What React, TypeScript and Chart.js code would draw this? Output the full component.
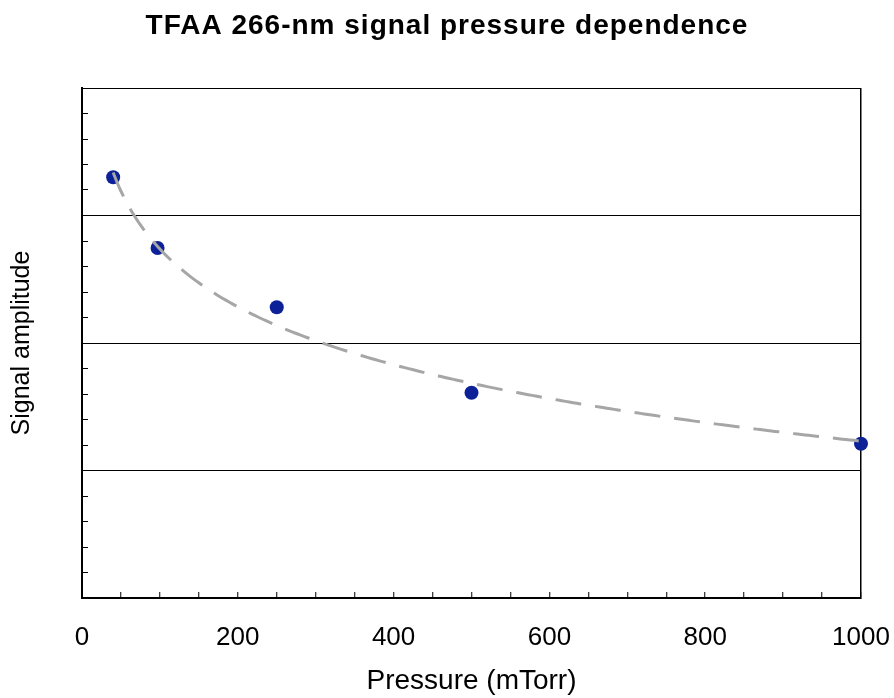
import React, { useEffect, useRef } from "react";
import { Chart, registerables } from "chart.js";

Chart.register(...registerables);

const TITLE = "TFAA 266-nm signal pressure dependence";
const X_TITLE = "Pressure (mTorr)";
const Y_TITLE = "Signal amplitude";

// Measured data (pressure in mTorr, signal amplitude in arbitrary units)
const pressures = [40, 97, 250, 500, 1000];
const amplitudes = [3.3, 2.745, 2.28, 1.61, 1.21];

// Axis setup
const xMin = 0;
const xMax = 1000;
const xMinorStep = 50;
const xLabelStep = 200;
const yMin = 0;
const yMax = 4;
const yMinorStep = 0.2;

const FONT = '"Liberation Sans", Arial, Helvetica, sans-serif';

// Logarithmic trendline (least squares y = a + b ln x), as in the original spreadsheet chart
function logFit(xs: number[], ys: number[]) {
  const lx = xs.map((v) => Math.log(v));
  const n = xs.length;
  const mx = lx.reduce((s, v) => s + v, 0) / n;
  const my = ys.reduce((s, v) => s + v, 0) / n;
  let sxy = 0;
  let sxx = 0;
  for (let i = 0; i < n; i++) {
    sxy += (lx[i] - mx) * (ys[i] - my);
    sxx += (lx[i] - mx) * (lx[i] - mx);
  }
  const b = sxy / sxx;
  const a = my - b * mx;
  return { a, b };
}

function trendPoints() {
  const { a, b } = logFit(pressures, amplitudes);
  const lo = Math.min(...pressures);
  const hi = Math.max(...pressures);
  const pts: { x: number; y: number }[] = [];
  const steps = 200;
  for (let i = 0; i <= steps; i++) {
    const x = lo + ((hi - lo) * i) / steps;
    pts.push({ x, y: a + b * Math.log(x) });
  }
  return pts;
}

const titlePlugin = {
  id: "customTitle",
  afterDraw(chart: any) {
    const ctx = chart.ctx;
    ctx.save();
    ctx.font = `bold 28px ${FONT}`;
    ctx.fillStyle = "#000";
    ctx.textAlign = "center";
    ctx.textBaseline = "alphabetic";
    try {
      (ctx as any).letterSpacing = "1px";
    } catch (e) {}
    ctx.fillText(TITLE, chart.width / 2, 34);
    ctx.restore();
  },
};

export default function App() {
  const ref = useRef<HTMLCanvasElement | null>(null);

  useEffect(() => {
    if (!ref.current) return;
    const isInt = (v: number) => Math.abs(v - Math.round(v)) < 1e-6;
    const chart = new Chart(ref.current, {
      type: "scatter",
      data: {
        datasets: [
          {
            label: "trend",
            data: trendPoints(),
            showLine: true,
            borderColor: "#a6a6a6",
            borderWidth: 3,
            borderDash: [26, 14],
            pointRadius: 0,
            pointHoverRadius: 0,
            fill: false,
            order: 0,
          } as any,
          {
            label: "signal",
            data: pressures.map((p, i) => ({ x: p, y: amplitudes[i] })),
            backgroundColor: "#0c2197",
            borderColor: "#0c2197",
            pointRadius: 7,
            pointBorderWidth: 0,
            clip: false,
            order: 1,
          } as any,
        ],
      },
      options: {
        responsive: false,
        animation: false,
        layout: { padding: { top: 88, right: 33, left: 0, bottom: 0 } },
        plugins: {
          legend: { display: false },
          title: { display: false },
          tooltip: { enabled: false },
        },
        scales: {
          x: {
            type: "linear",
            min: xMin,
            max: xMax,
            afterFit: (s: any) => {
              s.height = 100;
              s.paddingLeft = 0;
              s.paddingRight = 0;
            },
            ticks: {
              stepSize: xMinorStep,
              autoSkip: false,
              maxRotation: 0,
              minRotation: 0,
              padding: 30,
              color: "#000",
              font: { family: FONT, size: 26 },
              callback: (v: any) => (Math.round(v) % xLabelStep === 0 ? String(Math.round(v)) : ""),
            },
            grid: {
              drawOnChartArea: true,
              drawTicks: true,
              tickLength: -6,
              color: (c: any) => (c.tick && Math.round(c.tick.value) === xMax ? "#000" : "rgba(0,0,0,0)"),
              tickColor: "#000",
              lineWidth: 1.5,
              tickWidth: 1,
            },
            border: { display: true, color: "#000", width: 2 },
            title: {
              display: true,
              text: X_TITLE,
              color: "#000",
              font: { family: FONT, size: 28 },
              padding: { top: 0, bottom: 0 },
            },
          },
          y: {
            type: "linear",
            min: yMin,
            max: yMax,
            afterFit: (s: any) => {
              s.width = 82;
            },
            ticks: {
              stepSize: yMinorStep,
              display: false,
            },
            grid: {
              drawOnChartArea: true,
              drawTicks: true,
              tickLength: -6,
              color: (c: any) =>
                c.tick && isInt(c.tick.value) && c.tick.value > 0.5 ? "#000" : "rgba(0,0,0,0)",
              tickColor: "#000",
              lineWidth: 1,
              tickWidth: 1,
            },
            border: { display: true, color: "#000", width: 2 },
            title: {
              display: true,
              text: Y_TITLE,
              color: "#000",
              font: { family: FONT, size: 25 },
              padding: { top: 7, bottom: 7 },
            },
          },
        },
      },
      plugins: [titlePlugin],
    });
    return () => chart.destroy();
  }, []);

  return (
    <div style={{ position: "absolute", left: 0, top: 0, width: 894, height: 698, background: "#fff" }}>
      <canvas ref={ref} width={894} height={698} style={{ display: "block" }} />
    </div>
  );
}
